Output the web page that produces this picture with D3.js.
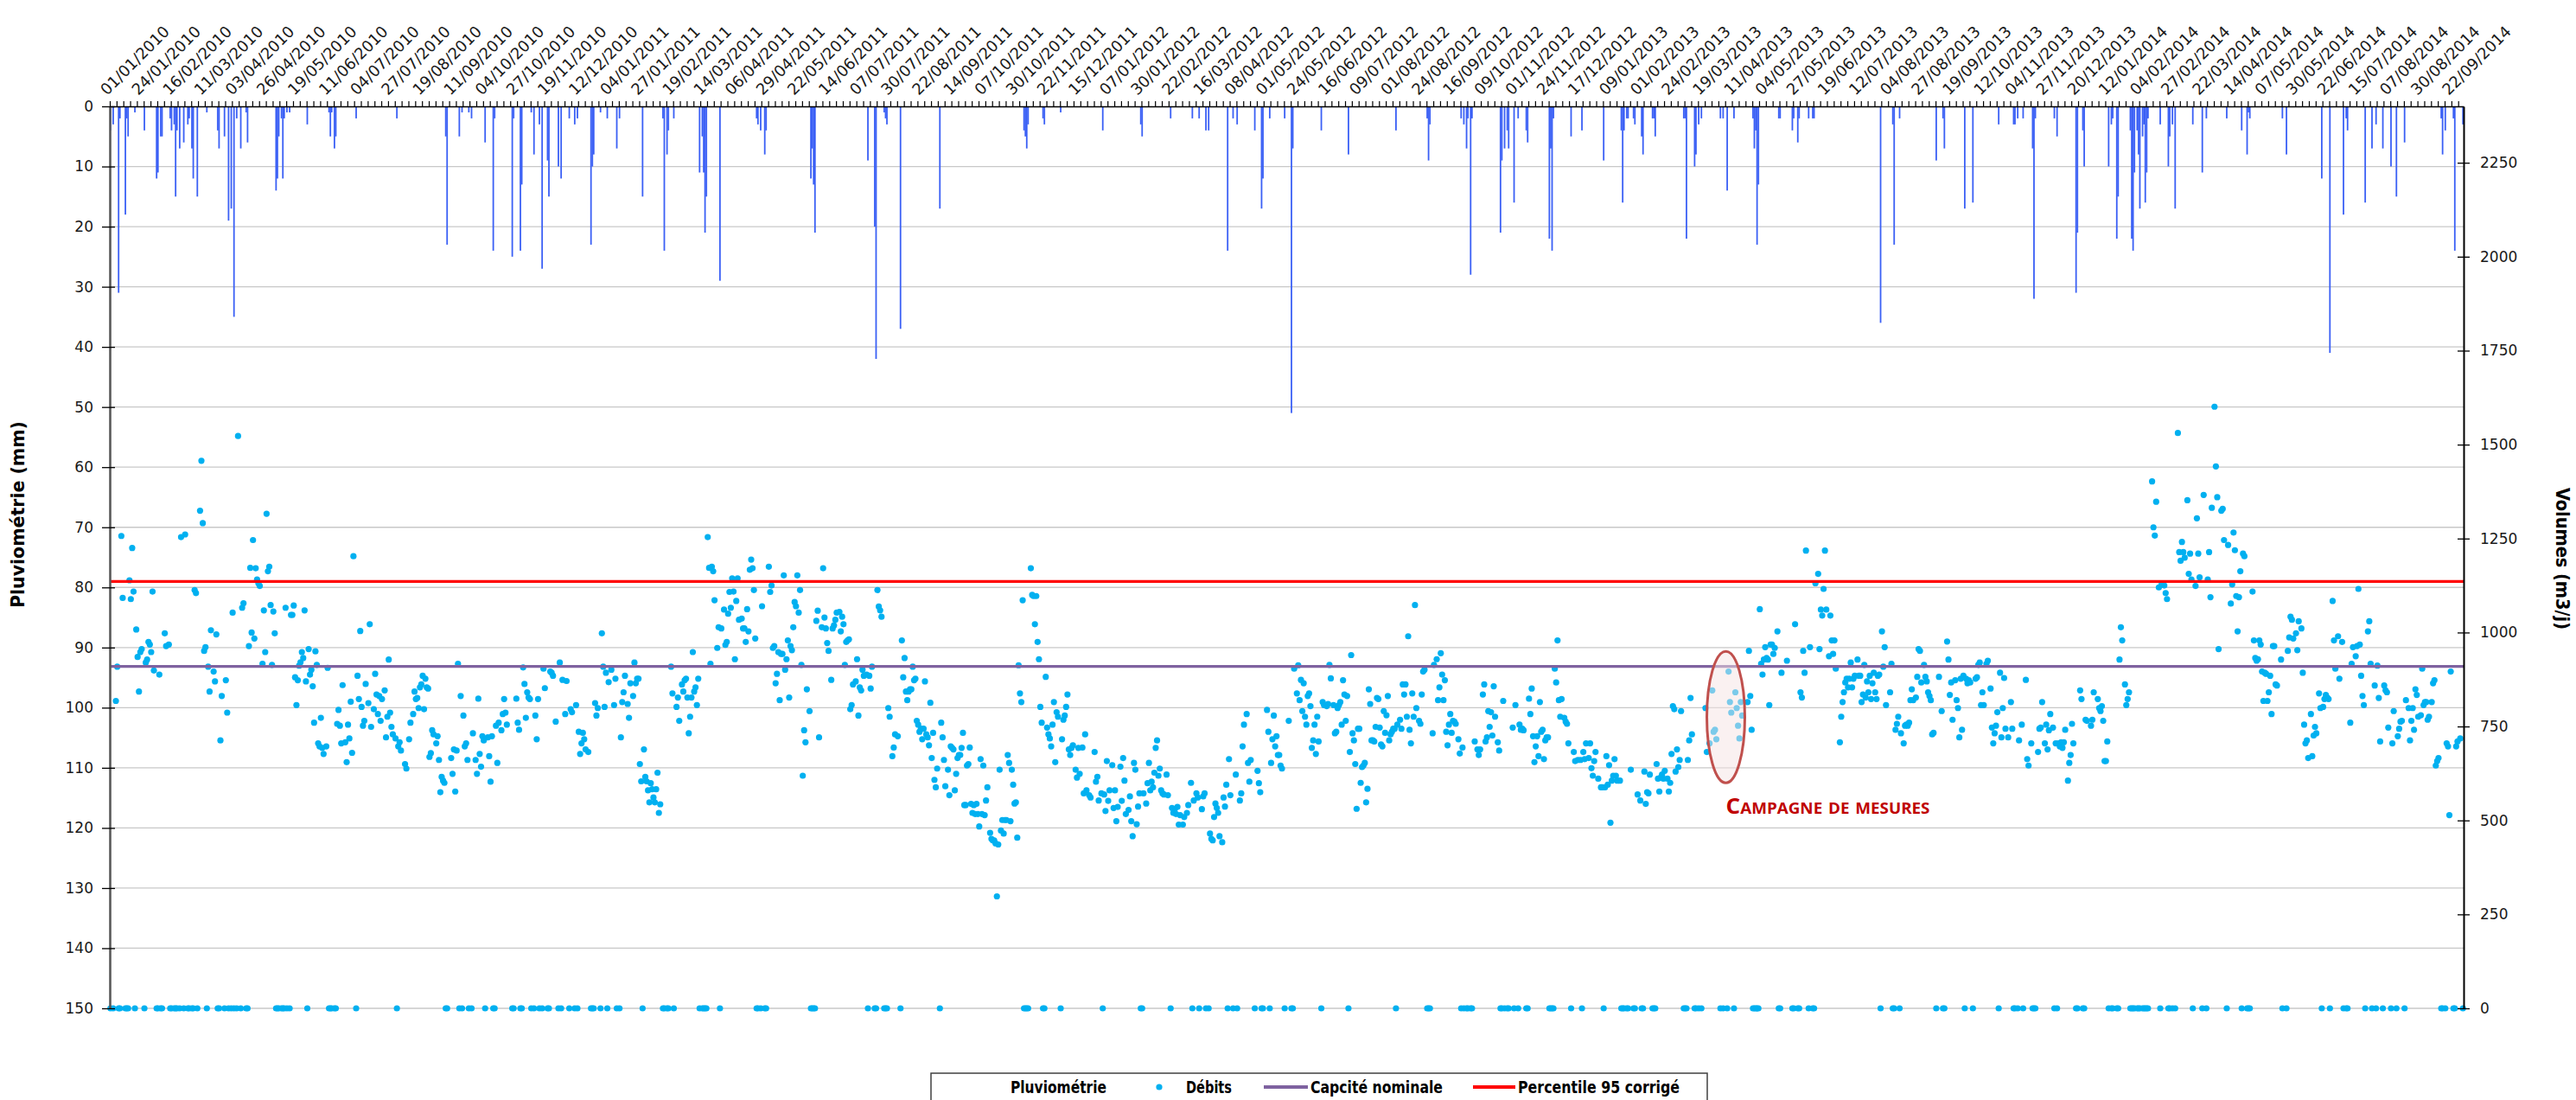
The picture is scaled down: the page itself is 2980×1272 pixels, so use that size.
<!DOCTYPE html>
<html>
<head>
<meta charset="utf-8">
<script src="https://cdn.jsdelivr.net/npm/d3@7"></script>
<style>
  body { margin: 0; background: #fff; }
  svg { display: block; }
</style>
</head>
<body>
<svg id="chart" width="2980" height="1272"></svg>
<script>
// ---- Données -------------------------------------------------------------
// Série journalière : jour 0 = 01/01/2010
const debutSerie = "2010-01-01";
const nbJours = 1734;
const pasEtiquettes = 23;   // une date affichée tous les 23 jours
const pasGraduations = 5;   // une graduation tous les 5 jours

// Pluviométrie journalière [jour, mm]
const pluie = [
  [0,4],[2,3],[6,31],[7,2],[11,18],[12,2],[13,5],[18,1],[25,4],[34,12],[35,11],[37,5],[38,5],[44,2],[45,4],[47,3],[48,15],[49,4],[51,7],[54,6],[57,3],[58,2],[60,7],[61,12],[64,15],[71,1],[79,4],[80,7],[84,5],[87,19],[89,17],[91,35],[93,2],[96,7],[100,1],[101,6],[122,14],[123,12],[124,5],[126,2],[127,12],[128,2],[130,1],[132,1],[145,3],[161,1],[162,5],[163,1],[165,7],[166,5],[181,2],[211,2],[247,5],[248,23],[257,5],[259,1],[264,1],[266,2],[276,6],[282,24],[283,2],
  [296,25],[297,2],[302,24],[303,13],[310,1],[312,8],[316,3],[318,27],[322,9],[323,15],[330,10],[332,12],[338,2],[342,3],[344,2],[354,23],[355,10],[356,8],[361,1],[366,2],[373,7],[375,2],[392,15],[407,2],[408,24],[410,8],[411,4],[415,2],[434,11],[436,5],[437,11],[438,21],[439,15],[449,29],[476,2],[477,3],[479,4],[482,8],[483,4],[516,12],[517,7],[518,13],[519,21],[558,9],[563,20],[564,42],[570,1],[571,2],[572,3],[582,37],
  [611,17],[673,4],[674,5],[675,7],[676,3],[687,2],[688,3],[700,1],[731,4],[759,3],[760,5],[781,2],[797,2],[802,2],[807,4],[809,4],[823,24],[827,2],[830,3],[843,4],[848,17],[849,12],[854,2],[865,2],[870,51],[871,7],
  [892,4],[912,8],[947,4],[970,2],[971,9],[972,3],[995,2],[997,3],[999,7],[1000,2],[1002,28],[1003,2],[1024,21],[1025,9],[1027,7],[1029,4],[1030,7],[1034,16],[1037,2],[1043,4],[1044,6],[1060,22],[1061,7],[1062,24],[1063,2],[1076,5],[1084,4],[1100,9],[1113,4],[1114,16],[1115,4],[1117,2],[1118,2],[1122,2],[1123,3],[1128,5],[1129,8],[1136,2],[1137,2],[1138,5],[1159,2],[1160,2],[1161,22],[1167,10],[1168,8],[1170,3],[1172,2],
  [1186,2],[1188,2],[1191,14],[1196,2],[1210,2],[1211,7],[1212,4],[1213,23],[1214,13],[1229,2],[1230,2],[1239,4],[1240,2],[1243,6],[1244,2],[1251,2],[1254,2],[1255,2],[1304,36],[1313,3],[1314,23],[1318,2],[1345,9],[1350,2],[1351,7],[1366,17],[1372,16],[1391,3],[1402,3],[1403,3],[1405,2],[1409,2],[1416,7],[1417,32],[1418,2],[1432,2],[1434,5],[1448,31],[1449,21],[1453,4],[1454,10],
  [1472,10],[1474,3],[1475,2],[1478,22],[1479,15],[1488,4],[1489,22],[1490,24],[1491,11],[1493,4],[1494,8],[1495,17],[1497,5],[1498,3],[1499,16],[1500,11],[1501,2],[1510,3],[1516,10],[1517,5],[1519,3],[1521,17],[1534,3],[1541,11],[1544,2],[1559,2],[1570,4],[1574,8],[1575,1],[1576,2],[1600,2],[1603,8],[1629,12],[1635,41],[1645,18],[1647,2],[1648,4],[1661,16],[1666,7],[1669,3],[1674,7],[1680,10],[1684,15],[1690,6],[1717,2],[1718,8],[1720,4],[1726,2],[1727,24],[1733,3]
];

// Débits journaliers de temps sec [jour, m3/j]
const debits = [
  [4,818],[5,909],[8,1257],[9,1092],[14,1139],[15,1089],[16,1225],[17,1109],[19,1008],[20,935],[21,843],[22,948],[23,956],[26,920],[27,928],[28,975],[29,968],[30,948],[31,1109],[32,899],[36,888],[40,998],[41,964],[43,968],[52,1254],[55,1261],[62,1113],[63,1105],[66,1324],[67,1457],[68,1291],[69,951],[70,961],[72,909],[73,843],[74,1006],[76,896],[77,870],[78,995],[81,713],[82,831],[85,873],[86,787],[90,1053],[94,1523],[97,1066],[98,1078],[102,964],[103,1172],[104,1000],[105,1246],[106,984],[107,1171],[108,1141],[109,1131],[110,1124],[112,917],[113,1059],[114,948],[115,1316],[116,1163],[117,1175],[118,1073],[119,914],[120,1056],[121,998],[129,1066],[133,1047],[134,1047],[135,1072],[136,881],[137,807],[138,873],[139,912],[140,921],[141,948],[142,932],[143,1059],[144,870],[146,956],[147,888],[148,901],[149,857],[150,760],[151,950],[152,914],[153,705],[154,697],[155,773],[156,693],[157,677],[159,697],[160,906],[167,757],[168,794],[169,752],[170,705],[171,860],[173,708],[174,655],[175,755],[176,718],[177,816],[178,680],[179,1203],[182,885],[183,823],[184,1004],[185,802],[186,752],[187,765],[188,863],[190,812],[191,1022],[192,749],[194,796],[195,890],[196,835],[197,783],[198,831],[199,765],[200,823],[202,846],[203,721],[204,776],[205,928],[206,787],[207,749],[208,729],[210,718],[212,697],[213,708],[214,686],[217,650],[218,638],[220,716],[221,760],[223,783],[224,843],[225,823],[226,826],[227,799],[228,854],[229,862],[230,885],[231,796],[232,877],[233,854],[234,851],[235,669],[236,679],[237,740],[238,729],[240,705],[241,724],[242,661],[243,575],[244,616],[245,606],[246,600],[251,666],[252,624],[253,689],[254,577],[255,686],[256,917],[258,831],[260,779],[261,697],[262,705],[263,661],[267,732],[269,661],[270,624],[271,824],[272,677],[273,643],[274,724],[275,713],[278,721],[279,671],[280,603],[281,724],[284,752],[285,653],[286,760],[288,740],[289,783],[290,823],[291,787],[292,755],
  [299,824],[300,760],[301,741],[304,907],[305,863],[306,773],[307,841],[308,827],[309,823],[313,779],[314,716],[315,823],[319,904],[320,852],[324,896],[325,893],[326,885],[328,763],[331,920],[333,874],[335,783],[336,871],[339,796],[340,788],[343,807],[345,736],[346,677],[347,705],[348,733],[349,716],[350,689],[352,682],[357,812],[358,779],[359,799],[362,998],[363,909],[364,802],[365,893],[367,868],[369,901],[371,807],[372,877],[376,721],[377,815],[378,841],[379,885],[381,810],[382,773],[383,865],[385,831],[386,920],[387,865],[388,877],[389,877],[390,650],[391,604],[393,689],[394,616],[395,604],[396,580],[397,548],[398,599],[399,583],[400,561],[401,548],[402,583],[403,627],[404,520],[405,543],[413,909],[414,838],[417,802],[418,827],[419,765],[421,862],[422,843],[423,873],[424,877],[425,827],[426,732],[427,776],[428,827],[429,948],[430,843],[431,854],[432,807],[433,877],[440,1254],[441,1172],[442,917],[443,1175],[444,1163],[445,1086],[447,959],[448,1014],[450,1011],[452,1061],[453,967],[454,975],[455,1050],[456,1108],[457,1066],[458,1144],[459,1109],[460,929],[461,1084],[462,1144],[463,1034],[465,1037],[466,1011],[467,1011],[468,975],[469,1062],[470,1003],[471,1167],[472,1194],[473,1171],[474,1113],[475,984],[480,1070],[485,1175],[486,1108],[487,1125],[488,959],[489,964],[490,865],[491,890],[492,948],[493,820],[494,943],[495,943],[496,1152],[497,901],[498,929],[499,979],[500,827],[501,964],[502,953],[503,1014],[504,1081],[505,1070],[506,1152],[507,1053],[508,1113],[509,914],[510,619],[511,740],[512,708],[513,849],[515,791],[520,1031],[521,1058],[522,721],[524,1014],[525,1171],[526,1040],[527,1011],[528,972],[529,951],[531,874],[532,1011],[533,1019],[534,1034],[535,1053],[537,1055],[538,1003],[539,1042],[540,1022],[541,914],[542,975],[543,979],[544,982],[545,796],[546,807],[547,862],[549,870],[550,929],[551,779],[552,854],[553,846],[554,901],[555,885],[557,888],[559,885],[560,851],[561,909],[565,1113],[566,1069],[567,1059],[568,1042],[573,799],[574,776],[576,671],[577,694],[578,729],[580,724],[583,979],[584,881],[585,932],[586,843],
  [587,820],[588,843],[589,849],[590,849],[591,909],[592,873],[593,877],[594,765],[595,755],[596,736],[597,744],[598,716],[599,744],[600,870],[601,729],[602,721],[603,700],[604,813],[605,666],[606,733],[607,608],[608,588],[609,638],[612,760],[613,721],[614,661],[615,591],[617,635],[618,567],[619,697],[620,693],[621,689],[622,580],[623,624],[624,666],[625,674],[626,674],[627,693],[628,733],[629,541],[630,541],[631,646],[632,650],[633,694],[634,544],[635,520],[636,541],[637,517],[638,544],[639,517],[640,484],[641,663],[642,517],[643,646],[644,514],[645,553],[646,588],[648,467],[649,451],[650,447],[651,447],[652,439],[653,298],[654,436],[655,635],[656,473],[657,501],[658,465],[659,501],[660,501],[661,674],[662,653],[663,498],[664,635],[665,595],[666,545],[667,548],[668,454],[669,913],[670,838],[671,815],[672,1086],[678,1171],[679,1100],[680,1097],[681,1022],[682,1097],[683,975],[684,929],[685,802],[686,760],[689,882],[690,747],[691,729],[692,718],[693,697],[694,755],[695,815],[696,655],[697,788],[698,776],[701,716],[702,768],[703,779],[704,802],[705,835],[706,689],[707,674],[708,693],[709,700],[711,635],[712,614],[713,693],[714,624],[716,694],[717,572],[718,729],[719,580],[721,567],[722,561],[725,682],[726,603],[727,616],[728,553],[730,572],[732,569],[733,525],[734,658],[735,552],[736,580],[738,647],[739,533],[740,580],[741,498],[742,536],[744,643],[745,552],[746,666],[747,606],[748,517],[750,528],[751,564],[752,498],[753,458],[754,653],[755,635],[756,490],[757,537],[758,572],[761,572],[763,545],[764,599],[765,653],[766,580],[767,603],[768,588],[769,627],[770,693],[771,713],[772,619],[773,638],[774,580],[775,572],[776,569],[778,622],[779,567],[782,533],[783,520],[784,530],[785,517],[786,536],[787,489],[788,514],[790,489],[791,509],[793,520],[794,541],[796,600],[798,553],[800,572],[801,561],[804,530],[805,564],[806,572],[810,465],[811,451],[812,447],[813,509],[814,545],[815,533],[816,520],[817,458],[819,442],[820,561],[821,537],[822,595],[824,663],[825,567],[829,622],[832,553],[833,572],[834,697],[835,755],[837,783],[838,653],[839,603],[840,661],[845,632],[846,599],[847,575],[852,794],[853,736],[855,653],[856,716],[857,779],[858,697],[859,724],[860,674],[861,674],[862,646],[863,638],[868,765],[872,904],[874,838],[875,913],[876,820],[877,874],[878,791],[879,865],
  [880,776],[881,755],[882,831],[883,838],[884,804],[885,693],[886,713],[887,755],[888,677],[889,776],[890,710],[893,815],[894,807],[896,804],[897,810],[898,914],[899,878],[901,807],[902,732],[903,736],[904,799],[905,807],[906,815],[907,755],[908,873],[909,835],[910,765],[911,831],[913,682],[914,940],[915,732],[916,713],[917,650],[918,531],[919,744],[920,744],[921,600],[922,642],[923,646],[924,653],[925,548],[926,584],[927,849],[928,810],[929,713],[930,713],[931,710],[932,749],[933,826],[934,823],[935,747],[936,702],[937,697],[938,791],[939,733],[940,780],[941,831],[942,713],[943,729],[944,736],[945,744],[946,744],[948,755],[950,768],[951,744],[952,862],[953,835],[954,862],[955,776],[956,990],[957,741],[958,705],[959,838],[960,776],[961,1073],[962,799],[964,765],[965,757],[966,835],[967,896],[968,901],[974,732],[975,914],[977,929],[978,820],[979,854],[980,945],[981,888],[982,820],[983,873],[984,736],[985,700],[986,755],[987,783],[988,733],[989,765],[990,763],[991,757],[993,716],[994,678],[996,694],[1005,710],[1007,689],[1008,674],[1009,689],[1011,835],[1012,862],[1013,710],[1014,721],[1015,791],[1016,749],[1017,788],[1018,726],[1019,857],[1020,776],[1022,708],[1023,686],[1026,818],[1033,747],[1035,807],[1038,755],[1039,741],[1040,744],[1041,740],[1045,824],[1046,783],[1047,851],[1048,724],[1049,655],[1050,697],[1051,724],[1052,671],[1053,815],[1054,736],[1055,741],[1056,663],[1057,713],[1058,721],[1059,721],[1064,904],[1065,867],[1066,979],[1067,820],[1068,776],[1069,823],[1071,773],[1072,763],[1073,757],[1074,705],[1078,682],[1079,658],[1081,661],[1083,661],[1085,682],[1086,663],[1087,705],[1089,666],[1090,705],[1091,639],[1092,619],[1093,658],[1094,682],[1096,611],[1098,588],[1099,588],[1101,588],[1102,671],[1103,595],[1104,647],[1105,494],[1106,606],[1107,619],[1108,663],[1109,619],[1110,606],[1112,606],[1120,635],[1125,569],[1127,553],[1130,630],[1131,544],[1132,575],[1133,572],[1134,622],[1139,650],[1140,611],[1141,577],[1142,614],[1143,622],[1144,611],[1145,632],[1147,611],[1148,577],[1149,600],[1150,677],[1151,804],[1152,796],[1153,630],[1154,689],[1155,642],[1156,661],[1157,791],[1162,661],[1163,713],[1164,826],[1165,729],
  [1175,799],[1176,682],[1178,705],[1180,846],[1181,736],[1182,741],[1183,716],[1192,896],[1193,815],[1194,787],[1197,841],[1198,799],[1199,752],[1200,718],[1201,815],[1202,779],[1206,815],[1207,951],[1208,831],[1209,741],[1215,1062],[1216,917],[1217,888],[1218,928],[1219,961],[1220,932],[1221,928],[1222,807],[1223,968],[1224,968],[1225,943],[1226,959],[1228,1003],[1231,893],[1235,925],[1241,1022],[1245,841],[1246,827],[1247,951],[1248,893],[1249,1218],[1252,961],[1256,1131],[1258,1156],[1259,956],[1260,1061],[1261,1045],[1262,1116],[1263,1218],[1264,1061],[1266,937],[1267,1045],[1268,979],[1269,943],[1270,979],[1271,904],[1274,708],[1275,776],[1276,815],[1277,841],[1278,867],[1279,877],[1280,854],[1281,877],[1282,920],[1283,854],[1284,877],[1285,885],[1287,928],[1288,885],[1289,885],[1290,815],[1291,835],[1292,914],[1293,827],[1294,870],[1295,841],[1296,885],[1297,823],[1298,865],[1299,893],[1300,841],[1301,823],[1302,885],[1303,888],[1305,1003],[1306,909],[1307,961],[1308,807],[1311,841],[1312,917],[1315,741],[1316,757],[1317,776],[1319,732],[1321,705],[1322,752],[1323,755],[1324,752],[1325,760],[1326,820],[1327,849],[1328,820],[1330,827],[1331,882],[1332,956],[1333,951],[1334,867],[1336,914],[1337,882],[1338,870],[1339,841],[1340,831],[1341,820],[1342,729],[1343,733],[1347,882],[1349,791],[1353,976],[1354,928],[1355,834],[1356,867],[1357,768],[1359,873],[1360,820],[1361,799],[1362,721],[1363,877],[1364,741],[1365,885],[1367,877],[1368,865],[1369,873],[1370,867],[1374,877],[1375,881],[1376,914],[1377,920],[1378,807],[1379,841],[1380,807],[1382,917],[1383,925],[1385,851],[1386,747],[1387,705],[1388,732],[1389,752],[1390,788],[1392,893],[1393,721],[1394,799],[1395,879],[1396,744],[1398,721],[1400,815],[1401,744],[1406,713],[1408,755],[1411,874],[1412,663],[1413,646],[1415,705],[1420,682],[1421,744],[1422,747],[1423,815],[1425,705],[1426,755],[1427,689],[1428,740],[1429,783],[1431,747],[1433,705],[1435,705],[1436,697],[1437,708],[1438,693],[1439,708],[1440,741],[1442,606],[1443,653],[1444,674],[1445,757],[1446,705],[1451,846],[1452,823],[1455,768],[1456,765],[1459,752],[1460,768],[1461,841],[1464,823],[1465,799],
  [1466,791],[1467,804],[1468,765],[1469,658],[1470,658],[1471,710],[1480,928],[1481,1014],[1482,979],[1484,862],[1485,807],[1486,823],[1487,841],[1504,1402],[1505,1280],[1506,1258],[1507,1348],[1509,1120],[1511,1128],[1513,1125],[1514,1105],[1515,1089],[1523,1531],[1524,1214],[1525,1191],[1526,1241],[1527,1214],[1528,1199],[1530,1352],[1531,1156],[1532,1210],[1533,1141],[1536,1124],[1537,1304],[1538,1210],[1539,1147],[1542,1366],[1545,1141],[1546,1214],[1547,1094],[1548,1332],[1550,1601],[1551,1442],[1552,1360],[1553,956],[1555,1324],[1556,1329],[1557,1246],[1560,1233],[1562,1077],[1563,1128],[1564,1266],[1565,1219],[1566,1097],[1567,1003],[1568,1094],[1569,1163],[1571,1210],[1572,1203],[1578,1109],[1579,979],[1580,932],[1581,925],[1582,929],[1583,979],[1584,968],[1585,896],[1586,818],[1587,893],[1588,890],[1589,818],[1590,841],[1591,885],[1592,783],[1593,964],[1594,964],[1595,862],[1596,859],[1599,928],[1604,951],[1605,987],[1606,1042],[1607,1034],[1608,984],[1610,998],[1611,953],[1612,1030],[1614,1011],[1615,893],[1616,755],[1617,705],[1618,713],[1619,666],[1621,783],[1622,671],[1623,726],[1624,749],[1625,732],[1627,838],[1628,799],[1630,802],[1631,823],[1632,834],[1633,827],[1634,823],[1637,1084],[1638,979],[1639,904],[1641,990],[1642,877],[1644,975],[1650,760],[1651,917],[1652,961],[1654,937],[1655,964],[1656,1116],[1657,968],[1658,885],[1659,831],[1660,807],[1663,1003],[1664,1030],[1665,917],[1668,859],[1670,912],[1671,826],[1672,710],[1675,859],[1676,846],[1677,841],[1678,747],[1681,705],[1682,791],[1685,724],[1686,744],[1687,763],[1688,765],[1691,820],[1693,799],[1694,713],[1695,765],[1696,799],[1697,741],[1698,849],[1699,834],[1700,776],[1702,780],[1703,904],[1704,807],[1705,815],[1706,815],[1707,768],[1708,776],[1710,815],[1711,865],[1712,873],[1713,646],[1714,658],[1715,666],[1721,705],[1722,697],[1723,514],[1724,896],[1728,697],[1729,710],[1731,718]
];

// Seuils (m3/j)
const capaciteNominale = 910;
const percentile95 = 1136;

// Campagne de mesures : période et plage de débits entourées
const campagneDates = ["2013-03-22", "2013-04-19"];
const campagneDebits = [600, 950];

// Graduations des axes
const graduationsPluie = [0, 10, 20, 30, 40, 50, 60, 70, 80, 90, 100, 110, 120, 130, 140, 150];
const graduationsVolumes = [0, 250, 500, 750, 1000, 1250, 1500, 1750, 2000, 2250];

// ---- Mise en page --------------------------------------------------------
const zone = { gauche: 127, droite: 2850, haut: 123, bas: 1166 };
const svg = d3.select("#chart");
svg.append("rect").attr("width", 2980).attr("height", 1272).attr("fill", "#fff");

const parse = d3.utcParse("%Y-%m-%d");
const j0 = parse(debutSerie);
const jours = d3.range(nbJours).map(i => d3.utcDay.offset(j0, i));
const indexJour = s => d3.utcDay.count(j0, parse(s));
const fmt = d3.utcFormat("%d/%m/%Y");

const x = d3.scaleBand().domain(d3.range(nbJours)).range([zone.gauche, zone.droite]).padding(0);
const xc = i => x(i) + x.bandwidth() / 2;
const xLin = d3.scaleLinear().domain([0, nbJours]).range([zone.gauche, zone.droite]);
const yPluie = d3.scaleLinear().domain([0, 150]).range([zone.haut, zone.bas]);
const yDebit = d3.scaleLinear().domain([0, 2400]).range([zone.bas, zone.haut]);

const tickFont = "'DejaVu Sans', Verdana, sans-serif";
const titleFont = "'Liberation Sans Narrow', 'DejaVu Sans Condensed', 'Roboto', sans-serif";

// Quadrillage horizontal
svg.append("g").selectAll("line")
  .data(graduationsPluie.filter(v => v > 0))
  .join("line")
  .attr("x1", zone.gauche).attr("x2", zone.droite)
  .attr("y1", d => yPluie(d)).attr("y2", d => yPluie(d))
  .attr("stroke", "#c8c8c8").attr("stroke-width", 1.3);

// Barres de pluie suspendues à l'axe du haut
svg.append("g").selectAll("rect")
  .data(pluie)
  .join("rect")
  .attr("x", d => xc(d[0]) - 0.9)
  .attr("width", 1.8)
  .attr("y", yPluie(0))
  .attr("height", d => yPluie(d[1]) - yPluie(0))
  .attr("fill", "#3b60f5");

// Débits : les jours de pluie sont enregistrés à 0 m3/j
const debitsNuls = pluie.map(([j]) => [j, 0]);
svg.append("g").selectAll("circle")
  .data(debits.concat(debitsNuls))
  .join("circle")
  .attr("cx", d => xc(d[0]))
  .attr("cy", d => yDebit(d[1]))
  .attr("r", 3.6)
  .attr("fill", "#00b0f0");

// Seuils horizontaux
svg.append("line")
  .attr("x1", zone.gauche).attr("x2", zone.droite)
  .attr("y1", yDebit(capaciteNominale)).attr("y2", yDebit(capaciteNominale))
  .attr("stroke", "#7f62a0").attr("stroke-width", 3.2);
svg.append("line")
  .attr("x1", zone.gauche).attr("x2", zone.droite)
  .attr("y1", yDebit(percentile95)).attr("y2", yDebit(percentile95))
  .attr("stroke", "#ff0000").attr("stroke-width", 3.2);

// Axe des dates (en haut)
const axeGrad = svg.append("g").attr("transform", `translate(0,${zone.haut})`)
  .call(d3.axisTop(xLin)
    .tickValues(d3.range(0, nbJours + 1, pasGraduations))
    .tickSizeInner(6).tickSizeOuter(0).tickFormat(""));
axeGrad.select(".domain").attr("stroke", "#000").attr("stroke-width", 1.6);
axeGrad.selectAll(".tick line").attr("stroke", "#000").attr("stroke-width", 1.2);

const etiquettes = d3.range(0, nbJours, pasEtiquettes);
svg.append("g").selectAll("text")
  .data(etiquettes)
  .join("text")
  .attr("transform", i => `translate(${xc(i) - 4},${zone.haut - 12}) rotate(-45)`)
  .attr("font-family", tickFont)
  .attr("font-size", 18)
  .attr("fill", "#1a1a1a")
  .text(i => fmt(jours[i]));

// Axe gauche : pluviométrie (inversé)
const axeG = svg.append("g").attr("transform", `translate(${zone.gauche},0)`)
  .call(d3.axisLeft(yPluie).tickValues(graduationsPluie).tickSizeOuter(0).tickSizeInner(9).tickPadding(10));
axeG.select(".domain").attr("stroke", "#595959").attr("stroke-width", 2.6);
axeG.selectAll(".tick line").attr("x1", 6).attr("stroke", "#000").attr("stroke-width", 1.3);
axeG.selectAll(".tick text").attr("font-family", tickFont).attr("font-size", 17).attr("fill", "#1a1a1a");

// Axe droit : volumes
const axeD = svg.append("g").attr("transform", `translate(${zone.droite},0)`)
  .call(d3.axisRight(yDebit).tickValues(graduationsVolumes).tickFormat(d3.format("d"))
    .tickSizeOuter(0).tickSizeInner(7).tickPadding(12));
axeD.select(".domain").attr("stroke", "#000").attr("stroke-width", 2);
axeD.selectAll(".tick line").attr("x1", -7).attr("stroke", "#000").attr("stroke-width", 1.3);
axeD.selectAll(".tick text").attr("font-family", tickFont).attr("font-size", 17).attr("fill", "#1a1a1a");

// Titres des axes
svg.append("text")
  .attr("transform", "translate(28,595) rotate(-90)")
  .attr("text-anchor", "middle")
  .attr("font-family", titleFont).attr("font-weight", "bold").attr("font-size", 21)
  .attr("textLength", 216).attr("lengthAdjust", "spacingAndGlyphs")
  .text("Pluviométrie (mm)");
svg.append("text")
  .attr("transform", "translate(2957,646) rotate(90)")
  .attr("text-anchor", "middle")
  .attr("font-family", titleFont).attr("font-weight", "bold").attr("font-size", 21)
  .attr("textLength", 164).attr("lengthAdjust", "spacingAndGlyphs")
  .text("Volumes (m3/j)");

// Campagne de mesures
const cx0 = xc(indexJour(campagneDates[0])), cx1 = xc(indexJour(campagneDates[1]));
const cy0 = yDebit(campagneDebits[1]), cy1 = yDebit(campagneDebits[0]);
svg.append("ellipse")
  .attr("cx", (cx0 + cx1) / 2).attr("cy", (cy0 + cy1) / 2)
  .attr("rx", (cx1 - cx0) / 2).attr("ry", (cy1 - cy0) / 2)
  .attr("fill", "#f6e4e3").attr("fill-opacity", 0.5)
  .attr("stroke", "#c0504d").attr("stroke-width", 3);
svg.append("text")
  .attr("x", (cx0 + cx1) / 2).attr("y", cy1 + 36)
  .attr("font-family", "'Open Sans', 'DejaVu Sans', sans-serif")
  .attr("font-weight", "bold").attr("font-size", 25)
  .attr("font-variant", "small-caps")
  .attr("fill", "#c00000")
  .attr("textLength", 236).attr("lengthAdjust", "spacingAndGlyphs")
  .text("Campagne de mesures");

// Légende
const leg = svg.append("g");
leg.append("rect").attr("x", 1077).attr("y", 1241).attr("width", 898).attr("height", 45)
  .attr("fill", "#fff").attr("stroke", "#404040").attr("stroke-width", 1.5);
const legText = (xx, w, s) => leg.append("text")
  .attr("x", xx).attr("y", 1264)
  .attr("font-family", titleFont).attr("font-weight", "bold").attr("font-size", 20)
  .attr("textLength", w).attr("lengthAdjust", "spacingAndGlyphs")
  .text(s);
legText(1169, 111, "Pluviométrie");
leg.append("circle").attr("cx", 1341).attr("cy", 1257).attr("r", 3.6).attr("fill", "#00b0f0");
legText(1372, 53, "Débits");
leg.append("line").attr("x1", 1462).attr("x2", 1513).attr("y1", 1257).attr("y2", 1257)
  .attr("stroke", "#7f62a0").attr("stroke-width", 4);
legText(1516, 153, "Capcité nominale");
leg.append("line").attr("x1", 1704).attr("x2", 1753).attr("y1", 1257).attr("y2", 1257)
  .attr("stroke", "#ff0000").attr("stroke-width", 4);
legText(1756, 187, "Percentile 95 corrigé");
</script>
</body>
</html>
